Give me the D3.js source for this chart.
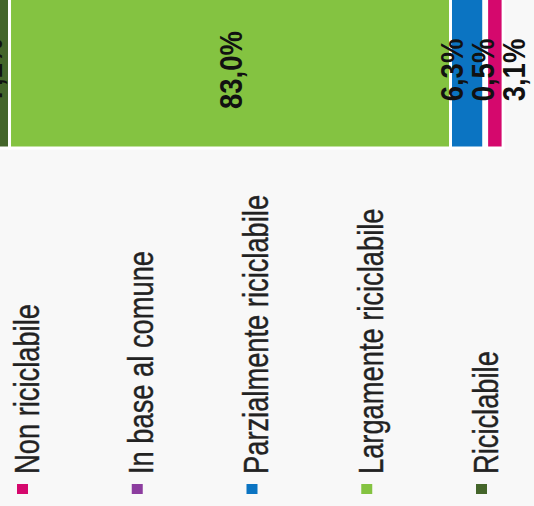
<!DOCTYPE html>
<html>
<head>
<meta charset="utf-8">
<script src="https://cdn.jsdelivr.net/npm/d3@7"></script>
<style>
  html, body { margin: 0; padding: 0; background: #f8f8f8; }
  svg { display: block; }
</style>
</head>
<body>
<svg id="chart" width="534" height="506"></svg>
<script>
// Composizione degli imballaggi per riciclabilità (%)
const categories = ["Riciclabile", "Largamente riciclabile", "Parzialmente riciclabile", "In base al comune", "Non riciclabile"];
const values = [7.1, 83.0, 6.3, 0.5, 3.1];
const colors = ["#44652a", "#84c341", "#0b74c2", "#8c3d9f", "#d5086d"];
const legendOrder = ["Non riciclabile", "In base al comune", "Parzialmente riciclabile", "Largamente riciclabile", "Riciclabile"];

const svg = d3.select("#chart");
const W = 534, H = 506;

const fmt = v => d3.format(".1f")(v).replace(".", ",") + "%";
const color = d3.scaleOrdinal().domain(categories).range(colors);

// stacked segments
let acc = 0;
const segs = categories.map((c, i) => {
  const s = { cat: c, v: values[i], x0: acc, x1: acc + values[i] };
  acc += values[i];
  return s;
});

const x = d3.scaleLinear().domain([0, 100]).range([-28.2, 503.1]);
const y = d3.scaleBand().domain(["totale"]).range([-4, 148]).padding(0);

svg.append("rect").attr("width", W).attr("height", H).attr("fill", "#f8f8f8");

const bar = svg.append("g");
bar.selectAll("rect")
  .data(segs)
  .join("rect")
  .attr("x", d => x(d.x0))
  .attr("width", d => x(d.x1) - x(d.x0))
  .attr("y", y("totale"))
  .attr("height", y.bandwidth())
  .attr("fill", d => color(d.cat))
  .attr("stroke", "#ffffff")
  .attr("stroke-width", 3);

// value labels, spread apart where neighbours collide
const pos = segs.map(d => (x(d.x0) + x(d.x1)) / 2);
const minGap = 31;
for (let it = 0; it < 200; it++) {
  for (let i = 1; i < pos.length; i++) {
    const d = pos[i] - pos[i - 1];
    if (d < minGap) {
      const s = (minGap - d) / 2;
      pos[i - 1] -= s;
      pos[i] += s;
    }
  }
}

const labelY = 70;
svg.append("g").selectAll("text")
  .data(segs)
  .join("text")
  .attr("transform", (d, i) => `translate(${pos[i]},${labelY}) rotate(-90) scale(0.86,1)`)
  .attr("text-anchor", "middle")
  .attr("dy", "0.36em")
  .attr("font-family", "'Liberation Sans', Arial, sans-serif")
  .attr("font-weight", "bold")
  .attr("font-size", 32)
  .attr("fill", "#111")
  .text(d => fmt(d.v));

// legend
const lx = d3.scalePoint().domain(legendOrder).range([13, 472]);
const legend = svg.append("g").selectAll("g")
  .data(legendOrder)
  .join("g")
  .attr("transform", d => `translate(${lx(d)},0)`);

legend.append("rect")
  .attr("x", 4)
  .attr("y", 484)
  .attr("width", 11)
  .attr("height", 10)
  .attr("fill", d => color(d));

legend.append("text")
  .attr("transform", "translate(25.5,474) rotate(-90) scale(0.78,1)")
  .attr("text-anchor", "start")
  .attr("font-family", "'Liberation Sans', Arial, sans-serif")
  .attr("font-size", 35)
  .attr("fill", "#222")
  .attr("stroke", "#222")
  .attr("stroke-width", 0.4)
  .text(d => d);
</script>
</body>
</html>
